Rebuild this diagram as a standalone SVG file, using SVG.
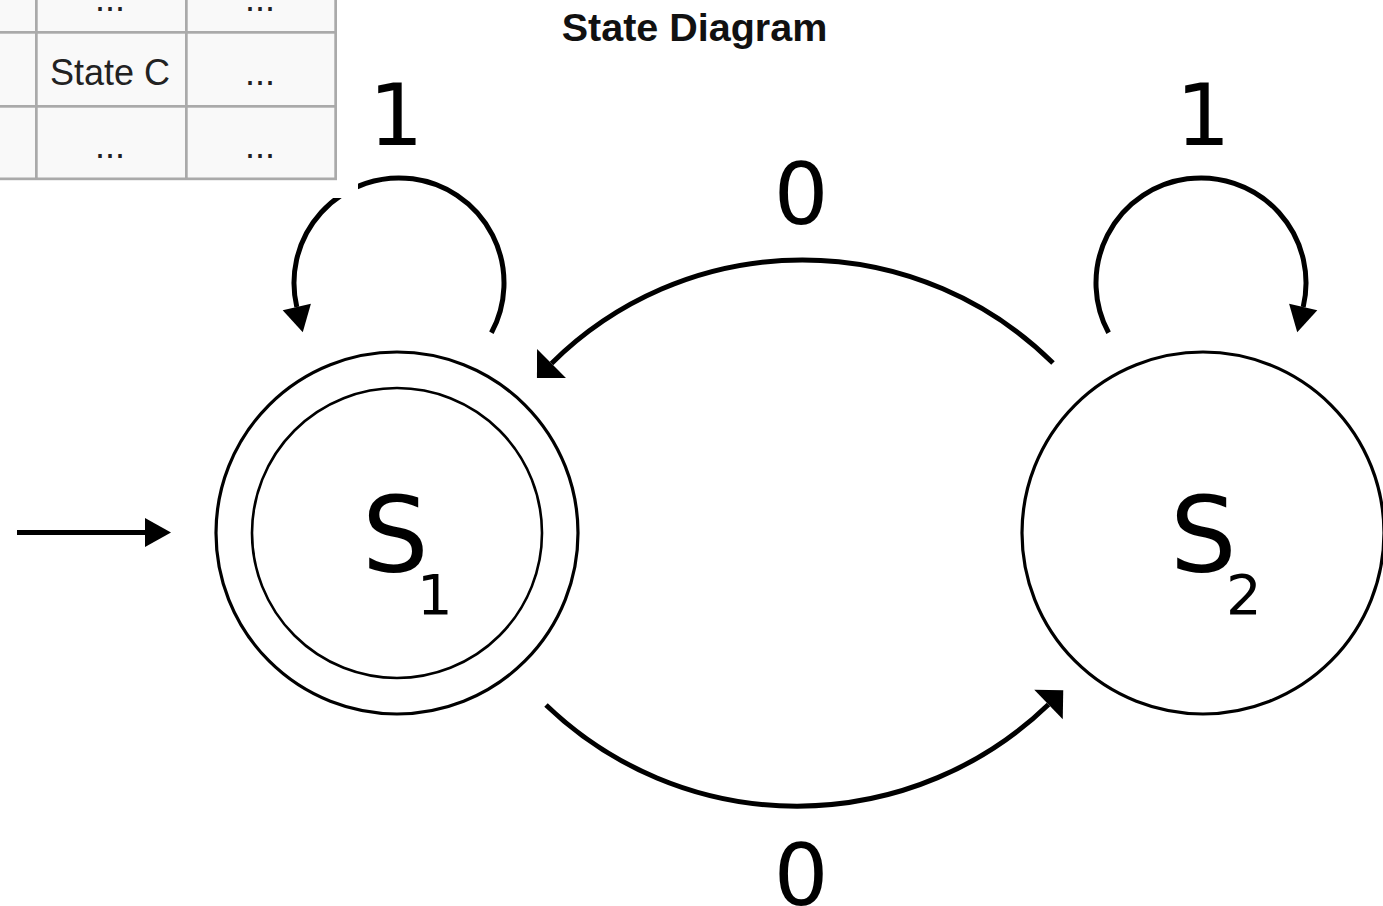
<svg xmlns="http://www.w3.org/2000/svg" width="1383" height="906" viewBox="0 0 1383 906">
<style>
.node{fill:none;stroke:#000;stroke-width:3.2}
.inner{fill:none;stroke:#000;stroke-width:2.6}
.edge{fill:none;stroke:#000;stroke-width:5}
.lbl{font-family:"DejaVu Sans",sans-serif;fill:#000}
.big{font-size:86px;text-anchor:middle}
.cell{font-family:"Liberation Sans",Arial,sans-serif;font-size:36px;fill:#222}
.grid{fill:#aaaaaa}
</style>
<defs>
<marker id="tri" markerUnits="userSpaceOnUse" markerWidth="30" markerHeight="32" viewBox="0 -16 30 32" refX="0" refY="0" orient="auto" overflow="visible">
<path d="M0,-14.5 L26,0 L0,14.5 z" fill="#000"/>
</marker>
<marker id="wide" markerUnits="userSpaceOnUse" markerWidth="24" markerHeight="44" viewBox="0 -22 24 44" refX="0" refY="0" orient="auto" overflow="visible">
<path d="M0,-20.5 L20.5,0 L0,20.5 z" fill="#000"/>
</marker>
</defs>
<rect width="1383" height="906" fill="#fff"/>
<g id="connectors">
<path class="edge" d="M17,532.5 L145,532.5" marker-end="url(#tri)"/>
<path class="edge" d="M491.4,332.8 A105,105 0 1 0 296.8,307" marker-end="url(#tri)"/>
<path class="edge" d="M1108.6,332.8 A105,105 0 1 1 1303.2,307" marker-end="url(#tri)"/>
<path class="edge" d="M1053,363 A356,356 0 0 0 551.5,363.5" marker-end="url(#wide)"/>
<path class="edge" d="M546,705 A362,362 0 0 0 1048.5,704.5" marker-end="url(#wide)"/>
</g>
<g id="edge-labels" class="lbl big">
<text x="396" y="145">1</text>
<text x="1203" y="145">1</text>
<text x="801" y="224">0</text>
<text x="801" y="905">0</text>
</g>
<g id="S1">
<circle class="node" cx="397" cy="533" r="181"/>
<circle class="inner" cx="397" cy="533" r="145"/>
<text class="lbl" x="362" y="572" font-size="105">S<tspan x="417" y="614" font-size="56">1</tspan></text>
</g>
<g id="S2">
<circle class="node" cx="1203" cy="533" r="181"/>
<text class="lbl" x="1170" y="572" font-size="105">S<tspan x="1226" y="614" font-size="56">2</tspan></text>
</g>
<g id="table">
<rect x="0" y="0" width="358" height="198" fill="#fff"/>
<rect x="0" y="0" width="337" height="180" fill="#f9f9f9"/>
<rect class="grid" x="35" y="0" width="2.7" height="180"/>
<rect class="grid" x="185" y="0" width="2.7" height="180"/>
<rect class="grid" x="334.3" y="0" width="2.7" height="180"/>
<rect class="grid" x="0" y="31" width="337" height="2.7"/>
<rect class="grid" x="0" y="105" width="337" height="2.7"/>
<rect class="grid" x="0" y="177.5" width="337" height="2.7"/>
<text class="cell" x="110" y="11" text-anchor="middle">...</text>
<text class="cell" x="260" y="11" text-anchor="middle">...</text>
<text class="cell" x="50" y="85">State C</text>
<text class="cell" x="260" y="85" text-anchor="middle">...</text>
<text class="cell" x="110" y="158" text-anchor="middle">...</text>
<text class="cell" x="260" y="158" text-anchor="middle">...</text>
</g>
<g id="title">
<text x="694.5" y="41" font-family="Liberation Sans, Arial, sans-serif" font-weight="bold" font-size="39.5" text-anchor="middle" fill="#111">State Diagram</text>
</g>
</svg>
